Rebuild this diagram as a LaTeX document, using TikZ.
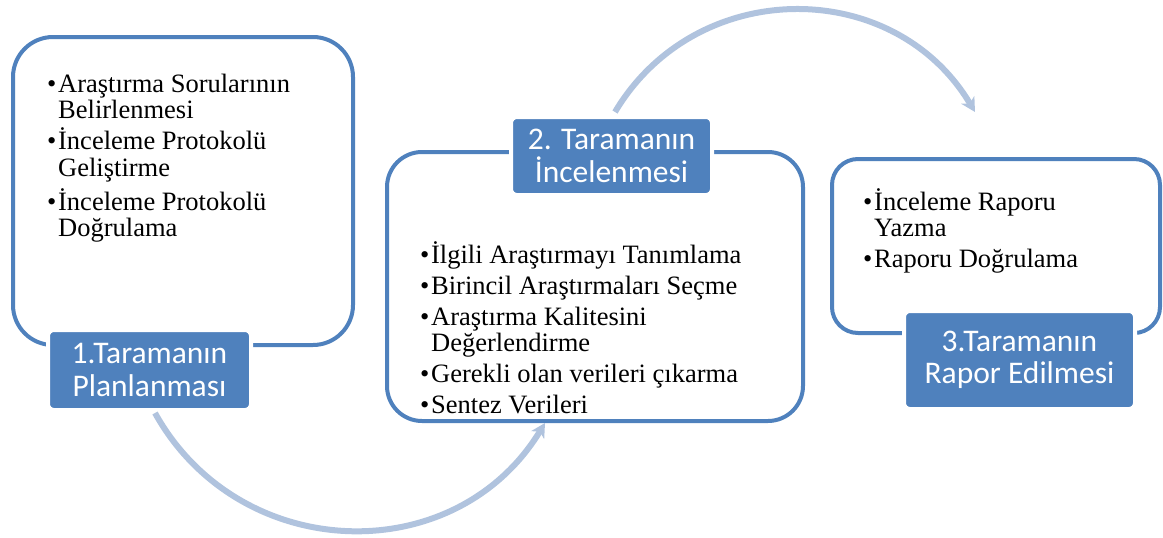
\documentclass[tikz,border=0pt]{standalone}
\usepackage{fontspec}
\usepackage{tikz}
\usetikzlibrary{arrows.meta, positioning}
\newfontfamily\bodyfont{Liberation Serif}
\newfontfamily\labfont{Carlito}
\definecolor{frameblue}{RGB}{79,129,189}
\definecolor{flowblue}{RGB}{176,195,222}
\newcommand{\bitem}[1]{\raggedright\spaceskip=0.25em plus 0.05em minus 0.05em\hangindent=11pt\hangafter=1\noindent\makebox[11pt][l]{\textbullet}#1\par}

\begin{document}
\begin{tikzpicture}[x=1pt, y=-1pt,
    box/.style={draw=frameblue, line width=4pt, fill=white},
    lbl/.style={draw=white, fill=frameblue, line width=4pt, rounded corners=6pt, text=white, align=center, font=\labfont\fontsize{31.5}{32.5}\selectfont},
    txt/.style={anchor=base west, inner sep=0pt, font=\bodyfont\fontsize{26.5}{26.5}\selectfont},
    flow/.style={draw=flowblue, line width=6pt, -{Stealth[length=14pt,width=15pt,inset=4pt]}}]
        \useasboundingbox (0,0) rectangle (1163,538);

        \node[box, rounded corners=40pt, minimum width=340pt, minimum height=308pt] (box1) at (183,191) {};
        \node[box, rounded corners=35pt, minimum width=416pt, minimum height=269pt] (box2) at (595,286.5) {};
        \node[box, rounded corners=26pt, minimum width=328pt, minimum height=174pt] (box3) at (996,246) {};

        \node[lbl, minimum width=203pt, minimum height=80pt] (lab1) at (149.5,370) {1.Taramanın\\Planlanması};
        \node[lbl, minimum width=201pt, minimum height=78pt] (lab2) at (611.5,156) {2. Taramanın\\İncelenmesi};
        \node[lbl, minimum width=231pt, minimum height=98pt] (lab3) at (1019.5,360) {3.Taramanın\\Rapor Edilmesi};

        \node[txt, text width=290pt] (list1) at (47,92) {%
            \bitem{Araştırma Sorularının\newline Belirlenmesi}\vspace{5pt}
            \bitem{İnceleme Protokolü\newline Geliştirme}\vspace{5pt}
            \bitem{İnceleme Protokolü\newline Doğrulama}};
        \node[txt, text width=370pt] (list2) at (420,263) {%
            \bitem{İlgili Araştırmayı Tanımlama}\vspace{4.5pt}
            \bitem{Birincil Araştırmaları Seçme}\vspace{4.5pt}
            \bitem{Araştırma Kalitesini\newline Değerlendirme}\vspace{4.5pt}
            \bitem{Gerekli olan verileri çıkarma}\vspace{4.5pt}
            \bitem{Sentez Verileri}};
        \node[txt, text width=280pt] (list3) at (863,210) {%
            \bitem{İnceleme Raporu\newline Yazma}\vspace{4.5pt}
            \bitem{Raporu Doğrulama}};

        \coordinate (s1) at (155,413);
        \coordinate (e1) at (545,423);
        \coordinate (s2) at (615,112);
        \coordinate (e2) at (975,112);
        \draw[flow] (s1) .. controls (239,564) and (455,571) .. (e1);
        \draw[flow] (s2) .. controls (696,-24) and (894,-24) .. (e2);
    \end{tikzpicture}
\end{document}
